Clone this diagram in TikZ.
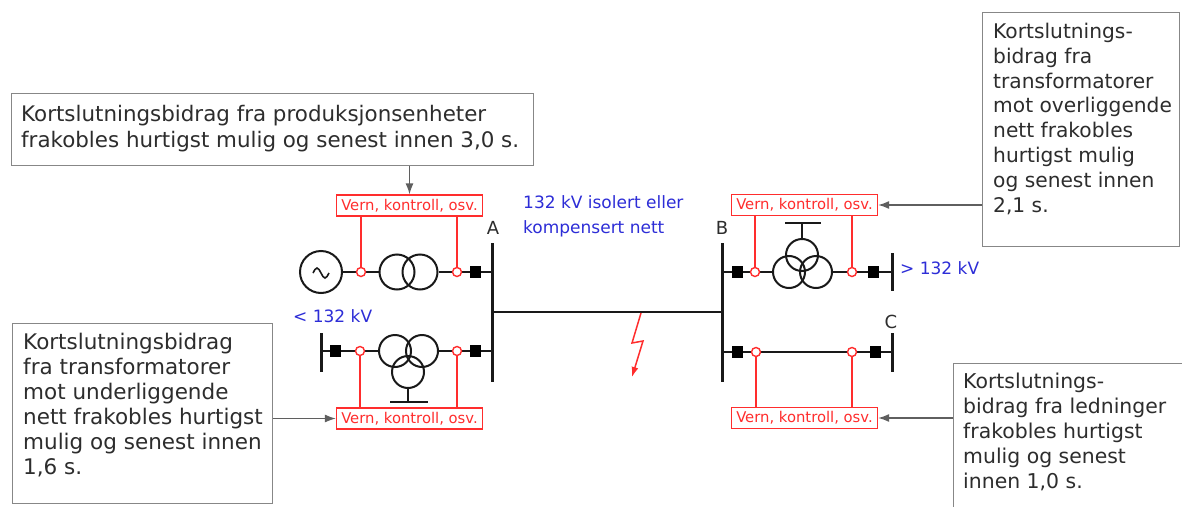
\documentclass[tikz,border=0pt]{standalone}
\usepackage{fontspec}
\setmainfont{DejaVu Sans}
\usetikzlibrary{arrows.meta,calc}
\definecolor{boxgray}{RGB}{135,135,135}
\definecolor{txtgray}{RGB}{45,45,45}
\definecolor{vred}{RGB}{255,45,45}
\definecolor{vblue}{RGB}{45,45,215}
\definecolor{arrgray}{RGB}{95,95,95}
\definecolor{linek}{RGB}{25,25,25}
\begin{document}
\begin{tikzpicture}[x=1pt,y=-1pt,
  infobox/.style={draw=boxgray, line width=1.4pt, fill=white, anchor=north west, inner sep=0pt},
  infotext/.style={anchor=north west, inner sep=0pt, align=left, text=txtgray, font=\fontsize{21}{25}\selectfont},
  vern/.style={draw=vred, line width=1.3pt, fill=white, text=vred, font=\fontsize{14.8}{16}\selectfont, inner sep=0pt, minimum width=146pt, minimum height=21pt},
  bluelab/.style={text=vblue, font=\fontsize{17}{25}\selectfont, inner sep=0pt, align=left},
  buslab/.style={text=txtgray, font=\fontsize{18}{20}\selectfont, inner sep=0pt, anchor=base},
  wline/.style={draw=linek, line width=2.6pt},
  busline/.style={draw=linek, line width=3pt},
  winding/.style={circle, draw=linek, line width=2pt, inner sep=0pt},
  ring/.style={circle, draw=vred, line width=1.4pt, fill=white, inner sep=0pt, minimum size=9pt},
  breaker/.style={rectangle, fill=black, inner sep=0pt, minimum width=11pt, minimum height=12pt},
  redline/.style={draw=vred, line width=1.4pt},
  callout/.style={draw=arrgray, line width=1.3pt, -{Latex[length=11pt,width=8pt]}},
]
\useasboundingbox (0,0) rectangle (1182,506);
\fill[white] (0,0) rectangle (1182,506);
\clip (0,0) rectangle (1182,506);

% ---------- bus bars ----------
\coordinate (Atop) at (492,243); \coordinate (Abot) at (492,382);
\coordinate (Btop) at (722,243); \coordinate (Bbot) at (722,382);
\coordinate (A1) at (492,272); \coordinate (A2) at (492,351); \coordinate (Am) at (492,312);
\coordinate (B1) at (722,272); \coordinate (B2) at (722,352); \coordinate (Bm) at (722,312);
\coordinate (Lt) at (321,333); \coordinate (Lb) at (321,372); \coordinate (Lm) at (321,351);
\coordinate (Ut) at (892,253); \coordinate (Ub) at (892,291); \coordinate (Um) at (892,272);
\coordinate (Ct) at (892,333); \coordinate (Cb) at (892,372); \coordinate (Cm) at (892,352);

\draw[busline] (Atop) -- (Abot);
\draw[busline] (Btop) -- (Bbot);
\draw[busline] (Lt) -- (Lb);
\draw[busline] (Ut) -- (Ub);
\draw[busline] (Ct) -- (Cb);
\draw[wline] (Am) -- (Bm);

% ---------- machines and transformers ----------
\node[winding, minimum size=42pt] (gen) at (321,272) {};
\draw[linek, line width=1.6pt] ($(gen)+(-8,1)$) sin ++(4,-5) cos ++(4,5) sin ++(4,5) cos ++(4,-5);
\node[winding, minimum size=35pt] (tA1) at (397,272) {};
\node[winding, minimum size=35pt] (tA2) at (420,272) {};

\node[winding, minimum size=32pt] (tL1) at (395,351) {};
\node[winding, minimum size=32pt] (tL2) at (422,351) {};
\node[winding, minimum size=32pt] (tL3) at (408,372) {};
\coordinate (gL1) at (390,402); \coordinate (gL2) at (428,402);
\draw[linek, line width=2pt] (tL3.south) -- (tL3.south |- gL1);
\draw[linek, line width=2pt] (gL1) -- (gL2);

\node[winding, minimum size=32pt] (tB1) at (789,272) {};
\node[winding, minimum size=32pt] (tB2) at (816,272) {};
\node[winding, minimum size=32pt] (tB3) at (802,255) {};
\coordinate (gB1) at (785,223); \coordinate (gB2) at (821,223);
\draw[linek, line width=2pt] (tB3.north) -- (tB3.north |- gB1);
\draw[linek, line width=2pt] (gB1) -- (gB2);

% ---------- feeder lines ----------
\draw[wline] (gen.east) -- (tA1.west);
\draw[wline] (tA2.east) -- (A1);
\draw[wline] (Lm) -- (tL1.west);
\draw[wline] (tL2.east) -- (A2);
\draw[wline] (B1) -- (tB1.west);
\draw[wline] (tB2.east) -- (Um);
\draw[wline] (B2) -- (Cm);

% ---------- breakers ----------
\node[breaker] (kA1) at (475,272) {};
\node[breaker] (kL1) at (335,351) {};
\node[breaker] (kL2) at (475,351) {};
\node[breaker] (kB1) at (737,272) {};
\node[breaker] (kB2) at (873,272) {};
\node[breaker] (kB3) at (737,352) {};
\node[breaker] (kB4) at (875,352) {};

% ---------- protection boxes ----------
\node[vern] (vA) at (409.5,205.5) {Vern, kontroll, osv.};
\node[vern] (vLA) at (409.5,418.5) {Vern, kontroll, osv.};
\node[vern] (vB) at (804.5,205) {Vern, kontroll, osv.};
\node[vern] (vLB) at (804.5,418) {Vern, kontroll, osv.};

\node[ring] (rA1) at (361,272) {};
\node[ring] (rA2) at (457,272) {};
\node[ring] (rL1) at (360,351) {};
\node[ring] (rL2) at (457,351) {};
\node[ring] (rB1) at (755,272) {};
\node[ring] (rB2) at (852,272) {};
\node[ring] (rB3) at (756,352) {};
\node[ring] (rB4) at (852,352) {};

\draw[redline] (rA1.north) -- (rA1 |- vA.south);
\draw[redline] (rA2.north) -- (rA2 |- vA.south);
\draw[redline] (rL1.south) -- (rL1 |- vLA.north);
\draw[redline] (rL2.south) -- (rL2 |- vLA.north);
\draw[redline] (rB1.north) -- (rB1 |- vB.south);
\draw[redline] (rB2.north) -- (rB2 |- vB.south);
\draw[redline] (rB3.south) -- (rB3 |- vLB.north);
\draw[redline] (rB4.south) -- (rB4 |- vLB.north);

% ---------- fault ----------
\coordinate (f0) at (641,313);
\draw[vred, line width=1.5pt, line join=miter, -{Latex[length=10pt,width=7pt]}]
  (f0) -- (632,343) -- (643,341) -- (632,377);

% ---------- labels ----------
\node[buslab] (labA) at (493,234) {A};
\node[buslab] (labB) at (722,234) {B};
\node[buslab] (labC) at (891,328) {C};
\node[bluelab, anchor=north west] (netlab) at (523,195) {132 kV isolert eller\\kompensert nett};
\node[bluelab, anchor=base west] (lowlab) at (293,322) {< 132 kV};
\node[bluelab, anchor=base west] (highlab) at (900,274) {> 132 kV};

% ---------- info boxes ----------
\node[infobox, minimum width=522pt, minimum height=72pt] (b1) at (11,93) {};
\node[infotext, font=\fontsize{21.4}{26}\selectfont] (b1t) at ($(b1.north west)+(10,12)$) {Kortslutningsbidrag fra produksjonsenheter\\frakobles hurtigst mulig og senest innen 3,0 s.};

\node[infobox, minimum width=197pt, minimum height=234pt] (b2) at (982,12) {};
\node[infotext, font=\fontsize{20.2}{24.8}\selectfont] (b2t) at ($(b2.north west)+(11,11)$) {Kortslutnings-\\bidrag fra\\transformatorer\\mot overliggende\\nett frakobles\\hurtigst mulig\\og senest innen\\2,1 s.};

\node[infobox, minimum width=260pt, minimum height=180pt] (b3) at (12,323) {};
\node[infotext, font=\fontsize{21.5}{25}\selectfont] (b3t) at ($(b3.north west)+(11,10)$) {Kortslutningsbidrag\\fra transformatorer\\mot underliggende\\nett frakobles hurtigst\\mulig og senest innen\\1,6 s.};

\node[infobox, minimum width=260pt, minimum height=160pt] (b4) at (953,363) {};
\node[infotext, font=\fontsize{20.4}{25}\selectfont] (b4t) at ($(b4.north west)+(10,10)$) {Kortslutnings-\\bidrag fra ledninger\\frakobles hurtigst\\mulig og senest\\innen 1,0 s.};

% ---------- callout arrows ----------
\draw[callout] (vA.north |- b1.south) -- (vA.north);
\draw[callout] (b2.west |- vB.east) -- (vB.east);
\draw[callout] (b3.east |- vLA.west) -- (vLA.west);
\draw[callout] (b4.west |- vLB.east) -- (vLB.east);
\end{tikzpicture}
\end{document}
